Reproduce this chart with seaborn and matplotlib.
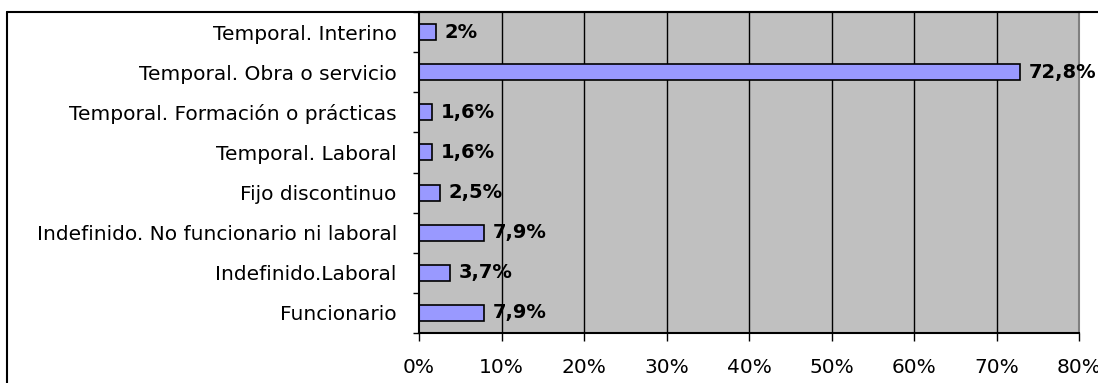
import matplotlib
matplotlib.use('Agg')
import matplotlib.pyplot as plt
import seaborn as sns
from matplotlib.lines import Line2D


# Chart data
categories = ['Temporal. Interino', 'Temporal. Obra o servicio',
              'Temporal. Formación o prácticas', 'Temporal. Laboral',
              'Fijo discontinuo', 'Indefinido. No funcionario ni laboral',
              'Indefinido.Laboral', 'Funcionario']
values = [2, 72.8, 1.6, 1.6, 2.5, 7.9, 3.7, 7.9]
value_labels = ['2%', '72,8%', '1,6%', '1,6%', '2,5%', '7,9%', '3,7%', '7,9%']
x_ticks = [0, 10, 20, 30, 40, 50, 60, 70, 80]
x_tick_labels = ['0%', '10%', '20%', '30%', '40%', '50%', '60%', '70%', '80%']

sns.set_style('white')
plt.rcParams['font.family'] = ['DejaVu Sans']
plt.rcParams['text.color'] = 'black'
plt.rcParams['xtick.color'] = 'black'
plt.rcParams['ytick.color'] = 'black'

W, H = 1098, 383
fig = plt.figure(figsize=(W / 100, H / 100), dpi=100)
ax = fig.add_axes([419 / W, 1 - 333 / H, (1079 - 419) / W, (333 - 12) / H])
ax.set_facecolor('#C0C0C0')

sns.barplot(x=values, y=categories, orient='h', color='#9999FF',
            edgecolor='black', linewidth=1.2, width=0.4, saturation=1, ax=ax)

# value labels to the right of each bar
for i, (v, lab) in enumerate(zip(values, value_labels)):
    ax.text(v + 1.1, i, lab, va='center', ha='left', fontsize=14,
            fontweight='bold', color='black', clip_on=False)

ax.set_xlim(0, 80)
ax.set_xticks(x_ticks)
ax.set_xticklabels(x_tick_labels, fontsize=14.5)
ax.set_ylim(len(categories) - 0.5, -0.5)
ax.set_xlabel('')
ax.set_ylabel('')

# vertical gridlines
ax.grid(False)
for x in x_ticks[1:-1]:
    ax.axvline(x, color='black', lw=1, zorder=0.5)

ax.tick_params(axis='x', direction='out', length=6, width=1,
               pad=12, bottom=True, labelcolor='black')
ax.tick_params(axis='y', which='major', length=0, pad=16, labelsize=14.5,
               labelcolor='black')
ax.set_yticks([i + 0.5 for i in range(-1, len(categories))], minor=True)
ax.tick_params(axis='y', which='minor', direction='out', length=4.5, width=1,
               left=True)

for side in ['left', 'bottom', 'top']:
    ax.spines[side].set_color('black')
    ax.spines[side].set_linewidth(1.5)
ax.spines['right'].set_color('#808080')
ax.spines['right'].set_linewidth(1.5)

# outer frame of the chart object
fig.add_artist(Line2D([7 / W, 1], [1 - 12 / H, 1 - 12 / H],
                      transform=fig.transFigure, color='black', lw=1.5))
fig.add_artist(Line2D([7 / W, 7 / W], [0, 1 - 12 / H],
                      transform=fig.transFigure, color='black', lw=1.5))

fig.savefig('out.png', dpi=100)
